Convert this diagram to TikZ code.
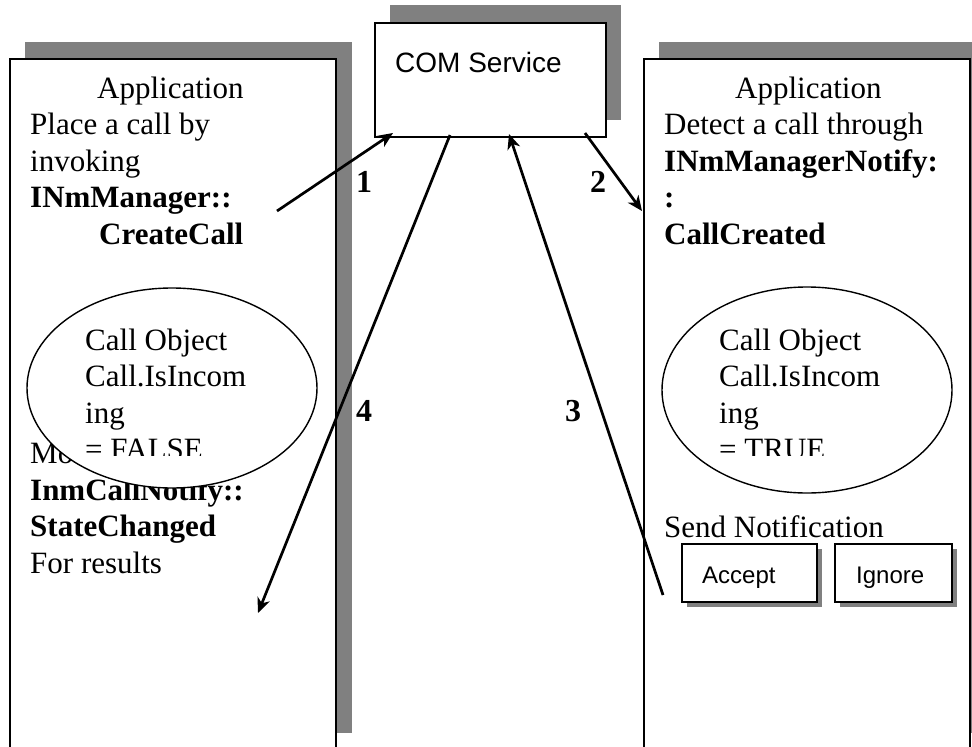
\documentclass[tikz,border=0pt]{standalone}
\usepackage{fontspec}
\setmainfont{Liberation Serif}
\newfontfamily\arialfam{Liberation Sans}
\usetikzlibrary{arrows.meta,shapes.geometric}
\definecolor{shgray}{RGB}{128,128,128}
\tikzset{
  shadowbox/.style={fill=shgray, draw=none, inner sep=0pt, anchor=north west},
  frame/.style={draw=black, line width=1.8pt, fill=white, inner sep=0pt, anchor=north west},
  txt/.style={inner sep=0pt, anchor=base west, font=\fontsize{31}{37}\selectfont},
  btxt/.style={txt, font=\fontsize{31}{37}\selectfont\bfseries},
  num/.style={inner sep=0pt, anchor=base west, font=\fontsize{32}{36}\selectfont\bfseries},
  sans/.style={inner sep=0pt, anchor=base west, font=\arialfam\fontsize{24}{28}\selectfont},
  oval/.style={draw=black, line width=1.4pt, fill=white, ellipse, inner sep=0pt},
  arr/.style={line width=2.7pt, -{Stealth[length=15pt,width=13pt,inset=4.5pt]}}
}
\begin{document}
\begin{tikzpicture}[x=1pt,y=-1pt]
\useasboundingbox (0,0) rectangle (972,747);
\fill[white] (0,0) rectangle (972,747);

% ---- shadows and frames
\node[shadowbox, minimum width=327pt, minimum height=691pt] (lshadow) at (25,42) {};
\node[frame, minimum width=326pt, minimum height=691pt] (leftapp) at (9,58) {};
\node[shadowbox, minimum width=231pt, minimum height=115pt] (cshadow) at (390,5) {};
\node[frame, minimum width=231pt, minimum height=114pt] (com) at (374,22) {};
\node[shadowbox, minimum width=326pt, minimum height=691pt] (rshadow) at (659,42) {};
\node[frame, minimum width=326pt, minimum height=691pt] (rightapp) at (643,58) {};

% ---- COM service label
\node[sans, font=\arialfam\fontsize{28}{31}\selectfont] (comlabel) at (395,72) {COM Service};

% ---- left application text
\node[txt] (la1) at (97,98) {Application};
\node[txt] (la2) at (30,134.6) {Place a call by};
\node[txt] (la3) at (30,171.2) {invoking};
\node[btxt] (la4) at (30,207.8) {INmManager::};
\node[btxt] (la5) at (99,244.4) {CreateCall};
\node[txt] (la6) at (30,463.6) {Monitor};
\node[btxt] (la7) at (30,500.2) {InmCallNotify::};
\node[btxt] (la8) at (30,536.8) {StateChanged};
\node[txt] (la9) at (30,573.4) {For results};

% ---- right application text
\node[txt] (ra1) at (735,98) {Application};
\node[txt] (ra2) at (664,134.6) {Detect a call through};
\node[btxt] (ra3) at (664,171.2) {INmManagerNotify:};
\node[btxt] (ra4) at (664,207.8) {:};
\node[btxt] (ra5) at (664,244.4) {CallCreated};
\node[txt] (ra6) at (664,537.5) {Send Notification};

% ---- call object ellipses
\node[oval, minimum width=290pt, minimum height=200pt] (lobj) at (172,388) {};
\node[oval, minimum width=290pt, minimum height=206pt] (robj) at (807,390) {};
\begin{scope}
\clip (0,300) rectangle (972,455);
\node[txt] (lo1) at (85,350) {Call Object};
\node[txt] (lo2) at (85,386.5) {Call.IsIncom};
\node[txt] (lo3) at (85,423) {ing};
\node[txt] (lo4) at (85,459.5) {= FALSE};
\node[txt] (ro1) at (719,350) {Call Object};
\node[txt] (ro2) at (719,386.5) {Call.IsIncom};
\node[txt] (ro3) at (719,423) {ing};
\node[txt] (ro4) at (719,459.5) {= TRUE};
\end{scope}

% ---- buttons
\node[shadowbox, minimum width=135pt, minimum height=58pt] (accsh) at (687,549) {};
\node[frame, line width=1.5pt, minimum width=135pt, minimum height=58pt] (acceptbtn) at (681,543) {};
\node[shadowbox, minimum width=117pt, minimum height=58pt] (igsh) at (840,549) {};
\node[frame, line width=1.5pt, minimum width=117pt, minimum height=58pt] (ignorebtn) at (834,543) {};
\node[sans] (acctext) at (702,583) {Accept};
\node[sans] (igtext) at (856,583) {Ignore};

% ---- arrows
\coordinate (a1s) at (277,211);
\coordinate (a1e) at (393,133);
\coordinate (a2s) at (585,133);
\coordinate (a2e) at (642,211);
\coordinate (a3s) at (663,595);
\coordinate (a3e) at (509,134);
\coordinate (a4s) at (450,135);
\coordinate (a4e) at (258,613);
\draw[arr] (a1s) -- (a1e);
\draw[arr] (a2s) -- (a2e);
\draw[arr] (a3s) -- (a3e);
\draw[arr] (a4s) -- (a4e);

\node[num] (n1) at (356,192) {1};
\node[num] (n2) at (590,192) {2};
\node[num] (n4) at (356,421) {4};
\node[num] (n3) at (565,421) {3};
\end{tikzpicture}
\end{document}
